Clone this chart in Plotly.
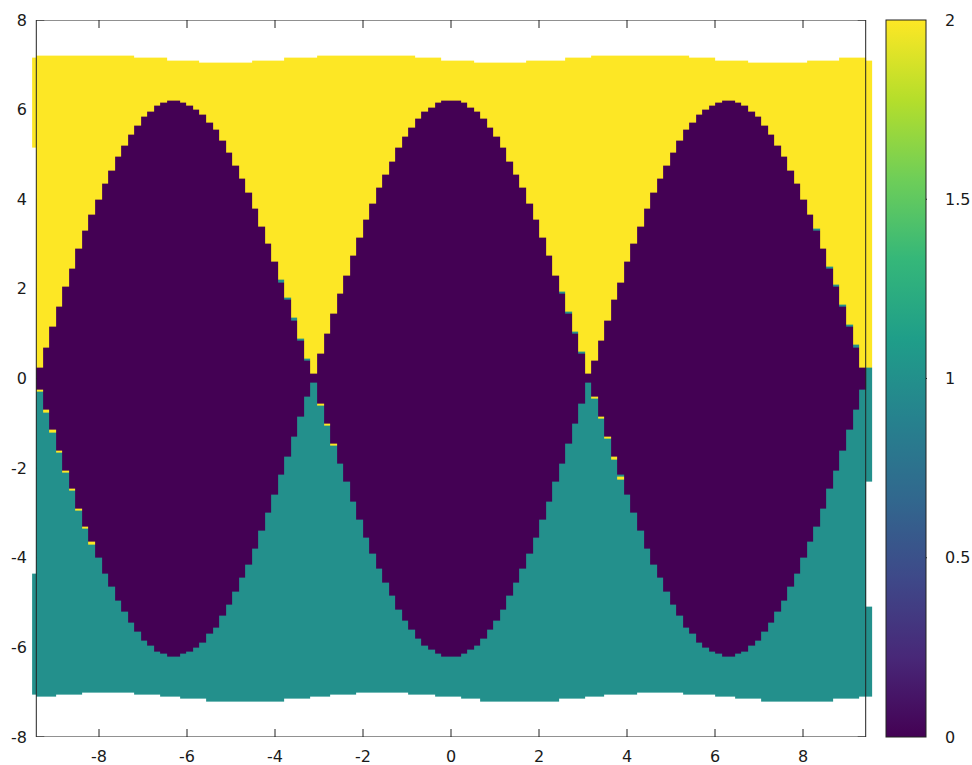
import numpy as np
import plotly.graph_objects as go

# Basin map of a damped pendulum: 0 = stays in the well, 1 / 2 = escapes
# downward / upward.  Values are given per grid column.
X_MIN, X_MAX = -3 * np.pi, 3 * np.pi
N_COLS = 127

# upper edge of the class-0 lens in each column
lens_top = [
    0.23, 0.69, 1.14, 1.59, 2.04, 2.46, 2.88, 3.28, 3.66, 4.02, 4.36, 4.67, 4.96, 5.22,
    5.46, 5.66, 5.83, 5.97, 6.08, 6.15, 6.19, 6.20, 6.17, 6.11, 6.01, 5.88, 5.72, 5.53,
    5.30, 5.05, 4.77, 4.47, 4.13, 3.78, 3.40, 3.01, 2.60, 2.17, 1.74, 1.29, 0.84, 0.38,
    0.08, 0.54, 0.99, 1.45, 1.89, 2.32, 2.74, 3.15, 3.53, 3.90, 4.25, 4.57, 4.87, 5.14,
    5.38, 5.60, 5.78, 5.93, 6.05, 6.13, 6.18, 6.20, 6.18, 6.13, 6.05, 5.93, 5.78, 5.60,
    5.38, 5.14, 4.87, 4.57, 4.25, 3.90, 3.53, 3.15, 2.74, 2.32, 1.89, 1.45, 0.99, 0.54,
    0.08, 0.38, 0.84, 1.29, 1.74, 2.17, 2.60, 3.01, 3.40, 3.78, 4.13, 4.47, 4.77, 5.05,
    5.30, 5.53, 5.72, 5.88, 6.01, 6.11, 6.17, 6.20, 6.19, 6.15, 6.08, 5.97, 5.83, 5.66,
    5.46, 5.22, 4.96, 4.67, 4.36, 4.02, 3.66, 3.28, 2.88, 2.46, 2.04, 1.59, 1.14, 0.69,
    0.23,
]

# lower edge of the class-0 lens in each column
lens_bottom = [
    -0.23, -0.69, -1.14, -1.59, -2.04, -2.46, -2.88, -3.28, -3.66, -4.02, -4.36, -4.67, -4.96, -5.22,
    -5.46, -5.66, -5.83, -5.97, -6.08, -6.15, -6.19, -6.20, -6.17, -6.11, -6.01, -5.88, -5.72, -5.53,
    -5.30, -5.05, -4.77, -4.47, -4.13, -3.78, -3.40, -3.01, -2.60, -2.17, -1.74, -1.29, -0.84, -0.38,
    -0.08, -0.54, -0.99, -1.45, -1.89, -2.32, -2.74, -3.15, -3.53, -3.90, -4.25, -4.57, -4.87, -5.14,
    -5.38, -5.60, -5.78, -5.93, -6.05, -6.13, -6.18, -6.20, -6.18, -6.13, -6.05, -5.93, -5.78, -5.60,
    -5.38, -5.14, -4.87, -4.57, -4.25, -3.90, -3.53, -3.15, -2.74, -2.32, -1.89, -1.45, -0.99, -0.54,
    -0.08, -0.38, -0.84, -1.29, -1.74, -2.17, -2.60, -3.01, -3.40, -3.78, -4.13, -4.47, -4.77, -5.05,
    -5.30, -5.53, -5.72, -5.88, -6.01, -6.11, -6.17, -6.20, -6.19, -6.15, -6.08, -5.97, -5.83, -5.66,
    -5.46, -5.22, -4.96, -4.67, -4.36, -4.02, -3.66, -3.28, -2.88, -2.46, -2.04, -1.59, -1.14, -0.69,
    -0.23,
]

# upper and lower limits of the sampled initial velocities in each column
band_top = [
    7.18, 7.19, 7.20, 7.21, 7.21, 7.22, 7.22, 7.22, 7.22, 7.22, 7.21, 7.21, 7.20, 7.19,
    7.18, 7.17, 7.16, 7.15, 7.14, 7.13, 7.11, 7.10, 7.09, 7.08, 7.08, 7.07, 7.06, 7.06,
    7.06, 7.06, 7.06, 7.07, 7.07, 7.08, 7.09, 7.10, 7.11, 7.12, 7.13, 7.14, 7.15, 7.16,
    7.17, 7.19, 7.19, 7.20, 7.21, 7.21, 7.22, 7.22, 7.22, 7.22, 7.21, 7.21, 7.20, 7.20,
    7.19, 7.18, 7.16, 7.15, 7.14, 7.13, 7.12, 7.11, 7.10, 7.09, 7.08, 7.07, 7.07, 7.06,
    7.06, 7.06, 7.06, 7.06, 7.07, 7.08, 7.08, 7.09, 7.10, 7.11, 7.12, 7.14, 7.15, 7.16,
    7.17, 7.18, 7.19, 7.20, 7.21, 7.21, 7.22, 7.22, 7.22, 7.22, 7.22, 7.21, 7.21, 7.20,
    7.19, 7.18, 7.17, 7.16, 7.15, 7.13, 7.12, 7.11, 7.10, 7.09, 7.08, 7.07, 7.07, 7.06,
    7.06, 7.06, 7.06, 7.06, 7.07, 7.07, 7.08, 7.09, 7.10, 7.11, 7.12, 7.13, 7.14, 7.16,
    7.17,
]
band_bottom = [
    -7.11, -7.09, -7.08, -7.06, -7.05, -7.04, -7.03, -7.02, -7.02, -7.01, -7.01, -7.01, -7.01, -7.02,
    -7.02, -7.03, -7.04, -7.06, -7.07, -7.08, -7.10, -7.11, -7.13, -7.14, -7.15, -7.17, -7.18, -7.19,
    -7.20, -7.20, -7.21, -7.21, -7.21, -7.21, -7.20, -7.20, -7.19, -7.18, -7.17, -7.15, -7.14, -7.13,
    -7.11, -7.10, -7.08, -7.07, -7.05, -7.04, -7.03, -7.02, -7.02, -7.01, -7.01, -7.01, -7.01, -7.02,
    -7.02, -7.03, -7.04, -7.05, -7.06, -7.08, -7.09, -7.11, -7.12, -7.14, -7.15, -7.16, -7.18, -7.19,
    -7.19, -7.20, -7.21, -7.21, -7.21, -7.21, -7.20, -7.20, -7.19, -7.18, -7.17, -7.16, -7.14, -7.13,
    -7.12, -7.10, -7.09, -7.07, -7.06, -7.05, -7.04, -7.03, -7.02, -7.01, -7.01, -7.01, -7.01, -7.01,
    -7.02, -7.03, -7.04, -7.05, -7.06, -7.07, -7.09, -7.10, -7.12, -7.13, -7.15, -7.16, -7.17, -7.18,
    -7.19, -7.20, -7.21, -7.21, -7.21, -7.21, -7.21, -7.20, -7.19, -7.19, -7.17, -7.16, -7.15, -7.14,
    -7.12,
]

# isolated cells along the lens edges (column, velocity, class)
speck_col = [37, 38, 39, 40, 41, 80, 81, 82, 83, 119, 121, 122, 123, 124, 125,
             0, 1, 2, 3, 4, 5, 6, 7, 8, 43, 44, 45, 85, 86, 87, 88, 89]
speck_y = [2.20, 1.77, 1.32, 0.87, 0.41, 1.92, 1.48, 1.02, 0.57, 3.31, 2.49, 2.07, 1.62, 1.17, 0.72,
           -0.26, -0.72, -1.17, -1.62, -2.07, -2.49, -2.91, -3.31, -3.69, -0.57, -1.02, -1.48,
           -0.41, -0.87, -1.32, -1.77, -2.20]
speck_val = [1] * 15 + [2] * 17

# narrow slivers just outside the x range: (low, high, class)
edge_left_x = (-9.52, X_MIN)
edge_left = [(5.15, 7.15, 2), (-7.07, -4.35, 1)]
edge_right_x = (X_MAX, 9.57)
edge_right = [(0.23, 7.12, 2), (-2.30, 0.23, 1), (-7.10, -5.12, 1)]

x_ticks = [-8, -6, -4, -2, 0, 2, 4, 6, 8]
x_tick_labels = ["-8", "-6", "-4", "-2", "0", "2", "4", "6", "8"]
y_ticks = [-8, -6, -4, -2, 0, 2, 4, 6, 8]
y_tick_labels = ["-8", "-6", "-4", "-2", "0", "2", "4", "6", "8"]
cb_ticks = [0, 0.5, 1, 1.5, 2]
cb_labels = ["0", "0.5", "1", "1.5", "2"]

# ---- grid -------------------------------------------------------------
DY = 0.05
y_edges = np.round(np.arange(-7.25, 7.25 + DY / 2, DY), 4)
y_mid = (y_edges[:-1] + y_edges[1:]) / 2
inner_edges = np.linspace(X_MIN, X_MAX, N_COLS + 1)
x_edges = np.concatenate([[edge_left_x[0]], inner_edges, [edge_right_x[1]]])

z = np.full((len(y_mid), N_COLS + 2), np.nan)
for c in range(N_COLS):
    col = np.full(len(y_mid), np.nan)
    inside = (y_mid <= band_top[c]) & (y_mid >= band_bottom[c])
    col[inside] = 1.0
    col[inside & (y_mid > lens_top[c])] = 2.0
    col[inside & (y_mid <= lens_top[c]) & (y_mid >= lens_bottom[c])] = 0.0
    z[:, c + 1] = col
for c, yv, v in zip(speck_col, speck_y, speck_val):
    r = int(np.searchsorted(y_edges, yv) - 1)
    z[r, c + 1] = v
for lo, hi, v in edge_left:
    z[(y_mid >= lo) & (y_mid <= hi), 0] = v
for lo, hi, v in edge_right:
    z[(y_mid >= lo) & (y_mid <= hi), -1] = v

# ---- figure -----------------------------------------------------------
FONT = dict(family="DejaVu Sans, sans-serif", size=16, color="#1a1a1a")
PLOT_L, PLOT_R = 31, 873
X_RANGE = [-9.5455, 9.5909]
CB_LEFT = (886 - PLOT_L) / (PLOT_R - PLOT_L)
CB_RIGHT = (927 - PLOT_L) / (PLOT_R - PLOT_L)
CB_LABEL_X = (943 - PLOT_L) / (PLOT_R - PLOT_L)

fig = go.Figure(go.Heatmap(
    x=x_edges, y=y_edges, z=z,
    colorscale="Viridis", zmin=0, zmax=2, zsmooth=False,
    hoverinfo="skip",
    colorbar=dict(
        x=CB_LEFT, xanchor="left", xpad=0, y=0.5, yanchor="middle", ypad=0,
        len=1, lenmode="fraction", thickness=40,
        outlinewidth=1, outlinecolor="#222222",
        tickmode="array", tickvals=cb_ticks, ticks="", showticklabels=False,
    ),
))

shapes = []
tick_line = dict(color="#222222", width=1)
for xv in x_ticks:
    shapes.append(dict(type="line", xref="x", yref="y", x0=xv, x1=xv,
                       ysizemode="pixel", yanchor=-8, y0=0, y1=8, line=tick_line, layer="below"))
    shapes.append(dict(type="line", xref="x", yref="y", x0=xv, x1=xv,
                       ysizemode="pixel", yanchor=8, y0=-8, y1=0, line=tick_line, layer="below"))
for yv in y_ticks:
    shapes.append(dict(type="line", xref="x", yref="y", y0=yv, y1=yv,
                       xsizemode="pixel", xanchor=X_MIN, x0=0, x1=8, line=tick_line, layer="below"))
    shapes.append(dict(type="line", xref="x", yref="y", y0=yv, y1=yv,
                       xsizemode="pixel", xanchor=X_MAX, x0=-8, x1=0, line=tick_line, layer="below"))
# inward ticks on both sides of the colour bar, plus its labels
annotations = []
for v, lab in zip(cb_ticks, cb_labels):
    yv = -8 + 8 * v
    if 0 < v < 2:
        shapes.append(dict(type="line", xref="paper", yref="y", y0=yv, y1=yv,
                           xsizemode="pixel", xanchor=CB_LEFT, x0=0, x1=7, line=tick_line))
        shapes.append(dict(type="line", xref="paper", yref="y", y0=yv, y1=yv,
                           xsizemode="pixel", xanchor=CB_RIGHT, x0=-7, x1=0, line=tick_line))
    annotations.append(dict(text=lab, xref="paper", yref="y", x=CB_LABEL_X, y=yv,
                            xanchor="left", yanchor="middle", showarrow=False, font=FONT))
# plot border
shapes.append(dict(type="rect", xref="x", yref="y", x0=X_MIN, x1=X_MAX, y0=-8, y1=8,
                   line=dict(color="#222222", width=1), fillcolor="rgba(0,0,0,0)", layer="above"))

fig.update_layout(
    width=972, height=765,
    margin=dict(l=PLOT_L, r=972 - PLOT_R, t=20, b=28, autoexpand=False),
    paper_bgcolor="white", plot_bgcolor="white",
    font=FONT,
    showlegend=False,
    shapes=shapes,
    annotations=annotations,
    xaxis=dict(range=X_RANGE, tickmode="array", tickvals=x_ticks, ticktext=x_tick_labels,
               ticks="", showgrid=False, zeroline=False, showline=False, automargin=False,
               ticklabelstandoff=8, tickfont=FONT, fixedrange=True),
    yaxis=dict(range=[-8, 8], tickmode="array", tickvals=y_ticks, ticktext=y_tick_labels,
               ticks="", showgrid=False, zeroline=False, showline=False, automargin=False,
               ticklabelstandoff=3, tickfont=FONT, fixedrange=True),
)

fig.write_html("out.html")
